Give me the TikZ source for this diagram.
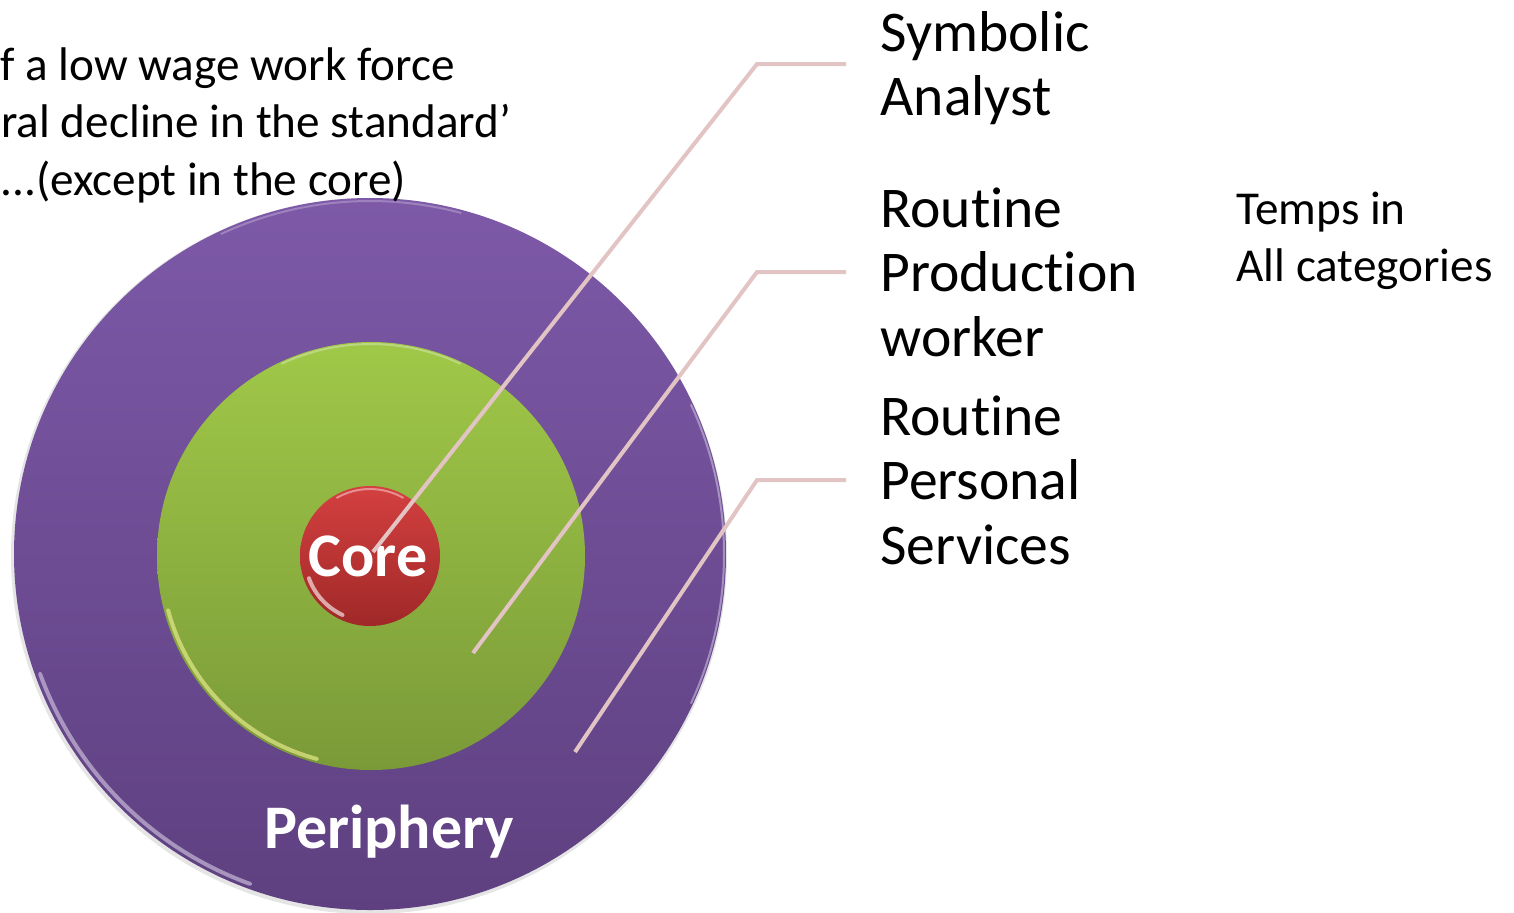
\documentclass[tikz,border=0pt]{standalone}
\usepackage{fontspec}
\setmainfont{Carlito}[RawFeature={-liga;-clig;-calt;-dlig}]
\definecolor{leadc}{RGB}{226,196,196}
\definecolor{purtop}{RGB}{125,89,168}
\definecolor{purbot}{RGB}{94,64,128}
\definecolor{grntop}{RGB}{160,200,72}
\definecolor{grnbot}{RGB}{122,154,56}
\definecolor{redtop}{RGB}{212,64,64}
\definecolor{redbot}{RGB}{160,40,40}
\begin{document}
\begin{tikzpicture}[x=0.5pt,y=0.5pt]
\tikzset{
  leader/.style={draw=leadc, line width=2pt},
  lab/.style={font=\fontsize{28.8}{32.25}\selectfont, align=left, inner sep=0pt, anchor=west},
  smalltxt/.style={font=\fontsize{23.6}{28.5}\selectfont, align=left, inner sep=0pt},
  ringtext/.style={text=white, font=\bfseries\fontsize{31}{36}\selectfont, inner sep=0pt},
  rim/.style={line width=2pt, line cap=round}
}
\useasboundingbox (0,0) rectangle (1514,-912);
% outer ring
\fill[gray!20] (369,-556) circle[radius=358];
\shade[top color=purtop, bottom color=purbot] (370,-554) circle[radius=356];
\draw[rim, white!70!purtop, opacity=0.6] (370,-554) ++(200:351) arc[start angle=200, end angle=250, radius=351];
\draw[line width=1pt, white!50!purtop, opacity=0.5] (370,-554) ++(75:353) arc[start angle=75, end angle=115, radius=353];
\draw[line width=1pt, white!60!purtop, opacity=0.6] (370,-554) ++(-25:354) arc[start angle=-25, end angle=25, radius=354];
% green ring
\shade[top color=grntop, bottom color=grnbot] (371,-556) circle[radius=214];
\draw[rim, white!60!yellow!70!grntop, opacity=0.7] (371,-556) ++(195:210) arc[start angle=195, end angle=255, radius=210];
\draw[line width=1pt, white!50!grntop, opacity=0.6] (371,-556) ++(65:212) arc[start angle=65, end angle=115, radius=212];
% core
\shade[top color=redtop, bottom color=redbot] (370,-556) circle[radius=70];
\draw[rim, white, opacity=0.6] (370,-556) ++(200:65) arc[start angle=200, end angle=245, radius=65];
\draw[line width=1pt, white!60!redtop, opacity=0.7] (370,-556) ++(60:67) arc[start angle=60, end angle=120, radius=67];
\node[ringtext] (core) at (368,-556) {Core};
\node[ringtext] (peri) at (389,-832) {Periphery};
% top-left text
\node[smalltxt, anchor=base west] (tl1) at (0,-80) {f a low wage work force};
\node[smalltxt, anchor=base west] (tl2) at (1,-137.5) {ral decline in the standard’};
\node[smalltxt, anchor=base west] (tl3) at (0,-195) {...(except in the core)};
% labels
\node[lab] (sym) at (880,-68) {Symbolic\\Analyst};
\node[lab] (prod) at (880,-272) {Routine\\Production\\worker};
\node[lab] (pers) at (880,-480) {Routine\\Personal\\Services};
\node[smalltxt, anchor=west] (temps) at (1236,-241) {Temps in\\All categories};
% leader points
\coordinate (p1) at (373,-552);
\coordinate (p2) at (473,-653);
\coordinate (p3) at (575,-752);
\coordinate (e1) at (757,-64);
\coordinate (e2) at (757,-272);
\coordinate (e3) at (757,-480);
\coordinate (h1) at (846,-64);
\coordinate (h2) at (846,-272);
\coordinate (h3) at (846,-480);
\draw[leader] (p1) -- (e1) -- (h1);
\draw[leader] (p2) -- (e2) -- (h2);
\draw[leader] (p3) -- (e3) -- (h3);
\end{tikzpicture}
\end{document}
